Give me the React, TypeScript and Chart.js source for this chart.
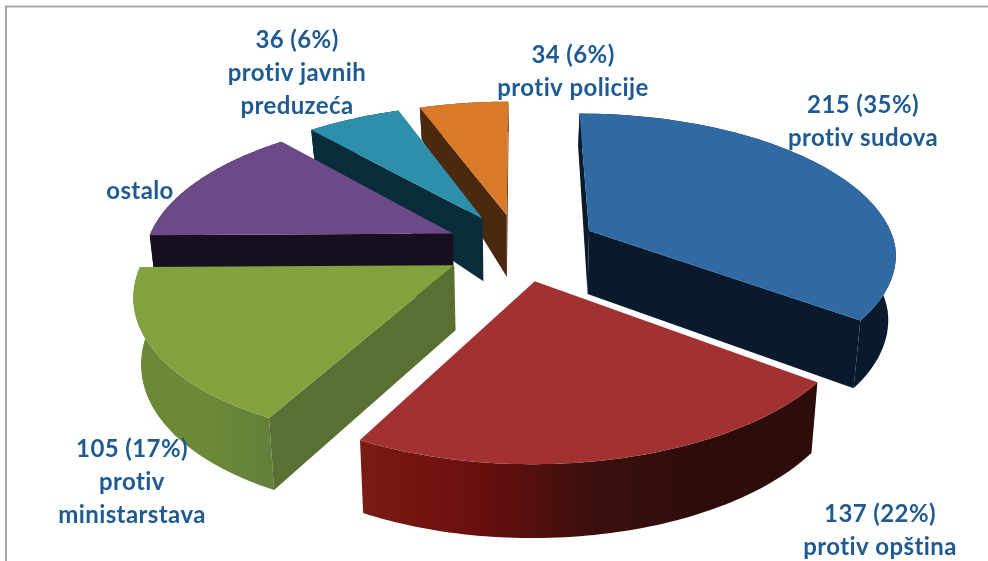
import React, { useEffect, useRef } from "react";
import { Chart, registerables } from "chart.js";

Chart.register(...registerables);

const categories = ["protiv sudova", "protiv opština", "protiv ministarstava", "ostalo", "protiv javnih preduzeća", "protiv policije"];
const values = [215, 137, 105, 84, 36, 34];
const labelLines = [
  ["215 (35%)", "protiv sudova"],
  ["137 (22%)", "protiv opština"],
  ["105 (17%)", "protiv", "ministarstava"],
  ["ostalo"],
  ["36 (6%)", "protiv javnih", "preduzeća"],
  ["34 (6%)", "protiv policije"],
];

const topColors = ["#2F6AA5", "#A23232", "#82A23F", "#6B4A87", "#2E8FAB", "#D87A28"];
const faceColors = ["#0A1A2D", "#2C0D0B", "#5A7033", "#170F20", "#082C3A", "#4C280F"];
const wallStops: string[][] = [
  ["#0A1A2D", "#0A1A2D"],
  ["#7A1C14", "#6B0F0E", "#3C0F0D", "#2C0D0B", "#2C0D0B"],
  ["#6B8838", "#6D8A38", "#62803A"],
  ["#170F20", "#170F20"],
  ["#082C3A", "#082C3A"],
  ["#4C280F", "#4C280F"],
];
const sliceOffsets = [52, 48, 48, 48, 48, 48];
const labelAnchors = [
  { x: 863, y: 113 },
  { x: 880, y: 522 },
  { x: 132, y: 457 },
  { x: 140, y: 199 },
  { x: 297, y: 48 },
  { x: 573, y: 63 },
];
const LABEL_COLOR = "#1F5B92";
const LABEL_FONT = "700 24px Lato";
const LINE_HEIGHT = 33;

const PLANE_R = 307;
const PLANE_K = 141;
const PERSPECTIVE = 6.2;
const FRONT_SHEAR = 6;

const project = (cx: number, cy: number, u: number, v: number) => {
  const f = PERSPECTIVE / (PERSPECTIVE - v);
  return { x: cx + PLANE_R * u * f - FRONT_SHEAR * Math.max(v, 0), y: cy + PLANE_K * v * f };
};
const depthAt = (v: number) => (v < -0.25 ? 62 + 32 * (v + 0.25) : 64 + 8 * v);
const dropped = (cx: number, cy: number, u: number, v: number) => {
  const p = project(cx, cy, u, v);
  return { x: cx + (p.x - cx) * 0.98, y: p.y + depthAt(v) };
};

const pie3d = {
  id: "pie3d",
  beforeDraw(chart: any) {
    const { ctx, width, height } = chart;
    ctx.save();
    ctx.fillStyle = "#FFFFFF";
    ctx.fillRect(0, 0, width, height);
    ctx.strokeStyle = "#A6A6A6";
    ctx.lineWidth = 2;
    ctx.beginPath();
    ctx.moveTo(6, height);
    ctx.lineTo(6, 6.5);
    ctx.lineTo(width, 6.5);
    ctx.stroke();
    ctx.restore();
  },
  beforeDatasetsDraw(chart: any) {
    const { ctx } = chart;
    const arcs = chart.getDatasetMeta(0).data;
    const slices = arcs.map((arc: any, i: number) => {
      const { startAngle, endAngle, outerRadius, x, y } = arc.getProps(["startAngle", "endAngle", "outerRadius", "x", "y"]);
      const mid = (startAngle + endAngle) / 2;
      const e = arc.options.offset / outerRadius;
      return { i, startAngle, endAngle, cx: x, cy: y, u0: Math.cos(mid) * e, v0: Math.sin(mid) * e, mid };
    });
    slices.sort((a: any, b: any) => Math.sin(a.mid) - Math.sin(b.mid));

    const poly = (pts: { x: number; y: number }[], fill: any) => {
      ctx.beginPath();
      pts.forEach((p, k) => (k ? ctx.lineTo(p.x, p.y) : ctx.moveTo(p.x, p.y)));
      ctx.closePath();
      ctx.fillStyle = fill;
      ctx.fill();
    };

    ctx.save();
    slices.forEach((s: any) => {
      const steps = 72;
      const uv: [number, number][] = [];
      for (let k = 0; k <= steps; k++) {
        const a = s.startAngle + ((s.endAngle - s.startAngle) * k) / steps;
        uv.push([s.u0 + Math.cos(a), s.v0 + Math.sin(a)]);
      }
      const top = uv.map(([u, v]) => project(s.cx, s.cy, u, v));
      const bottom = uv.map(([u, v]) => dropped(s.cx, s.cy, u, v));
      const A = project(s.cx, s.cy, s.u0, s.v0);
      const Ab = dropped(s.cx, s.cy, s.u0, s.v0);
      const M = top[Math.floor(steps / 2)];

      const xs = top.map((p: any) => p.x);
      const grad = ctx.createLinearGradient(Math.min(...xs), 0, Math.max(...xs), 0);
      const stops = wallStops[s.i];
      stops.forEach((c, k) => grad.addColorStop(k / (stops.length - 1), c));
      poly([...top, ...bottom.slice().reverse()], grad);

      [0, steps].forEach((idx) => {
        const P = top[idx];
        const crossM = (P.x - A.x) * (M.y - A.y) - (P.y - A.y) * (M.x - A.x);
        const crossD = P.x - A.x;
        if (crossM * crossD < 0) poly([A, P, bottom[idx], Ab], faceColors[s.i]);
      });

      poly([A, ...top], topColors[s.i]);
    });
    ctx.restore();
    return false;
  },
  afterDraw(chart: any) {
    const { ctx } = chart;
    ctx.save();
    ctx.font = LABEL_FONT;
    (ctx as any).letterSpacing = "0.4px";
    ctx.fillStyle = LABEL_COLOR;
    ctx.textAlign = "center";
    ctx.textBaseline = "alphabetic";
    labelLines.forEach((lines, i) => {
      lines.forEach((t, k) => ctx.fillText(t, labelAnchors[i].x, labelAnchors[i].y + k * LINE_HEIGHT));
    });
    ctx.restore();
  },
};

export default function App() {
  const ref = useRef<HTMLCanvasElement>(null);
  useEffect(() => {
    const chart = new Chart(ref.current!, {
      type: "pie",
      data: {
        labels: categories,
        datasets: [{ data: values, backgroundColor: topColors, borderWidth: 0, offset: sliceOffsets }],
      },
      options: {
        animation: false,
        responsive: false,
        radius: 200,
        layout: { padding: { left: 50, right: 0, top: 0, bottom: 67 } },
        plugins: { legend: { display: false }, tooltip: { enabled: false } },
      } as any,
      plugins: [pie3d],
    });
    return () => chart.destroy();
  }, []);
  return (
    <div style={{ position: "fixed", left: 0, top: 0, width: 988, height: 561 }}>
      <canvas ref={ref} width={988} height={561} style={{ display: "block" }} />
    </div>
  );
}
